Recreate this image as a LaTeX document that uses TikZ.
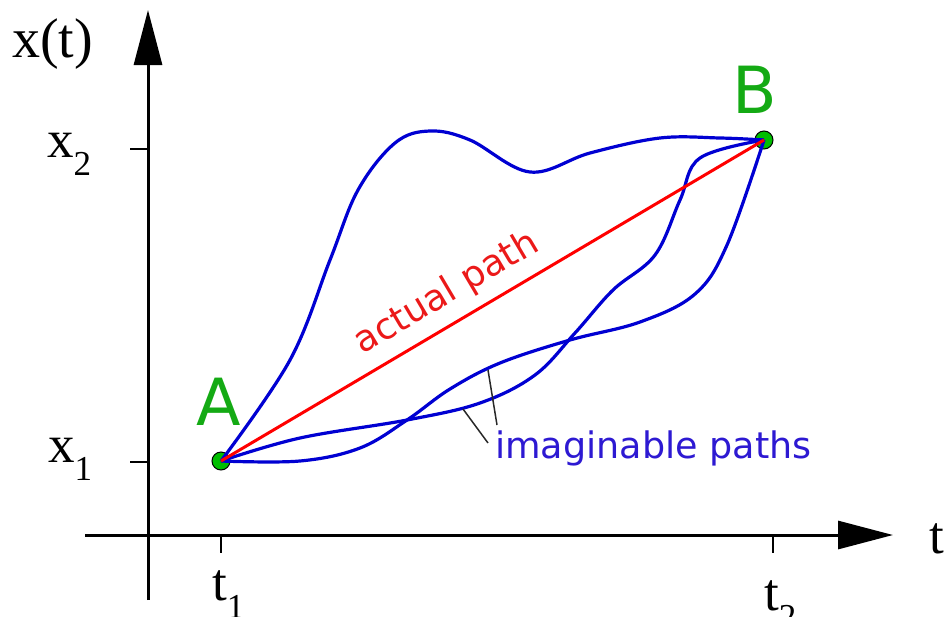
\documentclass[tikz,border=0pt]{standalone}
\usepackage{fontspec}
\setmainfont{Liberation Serif}
\newfontfamily\dejavu{DejaVu Sans}
\usetikzlibrary{arrows.meta}
\definecolor{pathblue}{RGB}{0,0,210}
\definecolor{labelblue}{RGB}{45,25,210}
\definecolor{actred}{RGB}{255,0,0}
\definecolor{textred}{RGB}{235,25,25}
\definecolor{ptgreen}{RGB}{0,190,0}
\definecolor{lblgreen}{RGB}{20,170,20}
\definecolor{leadergray}{RGB}{40,40,40}
\newcommand\mysub[1]{\raisebox{-18pt}{\fontsize{35}{35}\selectfont #1}}
\begin{document}
\begin{tikzpicture}[x=1pt,y=-1pt,
  axisline/.style={line width=3pt,-{Triangle[length=55pt,width=28pt]}},
  tickmark/.style={line width=1.5pt},
  seriflbl/.style={inner sep=0pt,anchor=base west,font=\fontsize{53}{53}\selectfont},
  ptlbl/.style={inner sep=0pt,anchor=base,text=lblgreen,font=\dejavu\fontsize{65}{65}\selectfont},
  dot/.style={circle,fill=ptgreen,draw=black,line width=1pt,minimum size=18pt,inner sep=0pt},
  imgpath/.style={draw=pathblue,line width=3.2pt,line join=round},
  leaderline/.style={draw=leadergray,line width=1.5pt}
]
\useasboundingbox (0,0) rectangle (944,616);
% axes
\coordinate (yb) at (148,600);
\coordinate (yt) at (148,10);
\coordinate (xl) at (85,535);
\coordinate (xr) at (893,535);
\draw[axisline] (yb) -- (yt);
\draw[axisline] (xl) -- (xr);
% ticks
\coordinate (tx2a) at (130,149); \coordinate (tx2b) at (148,149);
\coordinate (tx1a) at (130,462); \coordinate (tx1b) at (148,462);
\coordinate (tt1a) at (221,535); \coordinate (tt1b) at (221,553);
\coordinate (tt2a) at (773,535); \coordinate (tt2b) at (773,553);
\draw[tickmark] (tx2a) -- (tx2b);
\draw[tickmark] (tx1a) -- (tx1b);
\draw[tickmark] (tt1a) -- (tt1b);
\draw[tickmark] (tt2a) -- (tt2b);
% axis labels
\node[seriflbl,font=\fontsize{56}{56}\selectfont] (xt) at (12,57) {x(t)};
\node[seriflbl] (x2) at (47,157) {x\mysub{2}};
\node[seriflbl] (x1) at (48,462) {x\mysub{1}};
\node[seriflbl] (t1) at (212,600) {t\mysub{1}};
\node[seriflbl] (t2) at (764,610) {t\mysub{2}};
\node[seriflbl] (tlab) at (929,553) {t};
% end points
\node[dot] (A) at (221,461) {};
\node[dot] (B) at (764,140) {};
\node[ptlbl] (Alab) at (218.5,425) {A};
\node[ptlbl] (Blab) at (754.5,113) {B};
% imaginable paths
\draw[imgpath] plot[smooth,tension=0.6] coordinates {(A.center) (290,360) (330,260) (358,190) (395,143) (430,131) (470,140) (530,172) (590,153) (660,138) (720,138) (B.center)};
\draw[imgpath] plot[smooth,tension=0.6] coordinates {(A.center) (300,461) (360,448) (407,420) (450,389) (500,363) (570,340) (640,322) (695,294) (727,245) (B.center)};
\draw[imgpath] plot[smooth,tension=0.6] coordinates {(A.center) (300,438) (407,420) (480,403) (535,375) (575,333) (613,290) (655,255) (680,200) (700,158) (B.center)};
% actual path
\draw[actred,line width=3pt] (A.center) -- (B.center);
\node[inner sep=0pt,anchor=base,rotate=30.6,text=textred,font=\dejavu\fontsize{36.5}{36.5}\selectfont] (act) at (452,302) {actual path};
% label for imaginable paths
\node[inner sep=0pt,anchor=base west,text=labelblue,font=\dejavu\fontsize{36.5}{36.5}\selectfont] (img) at (495,458) {imaginable paths};
\coordinate (l1a) at (488,370); \coordinate (l1b) at (497,425);
\coordinate (l2a) at (463,409); \coordinate (l2b) at (488,443);
\draw[leaderline] (l1a) -- (l1b);
\draw[leaderline] (l2a) -- (l2b);
\end{tikzpicture}
\end{document}
